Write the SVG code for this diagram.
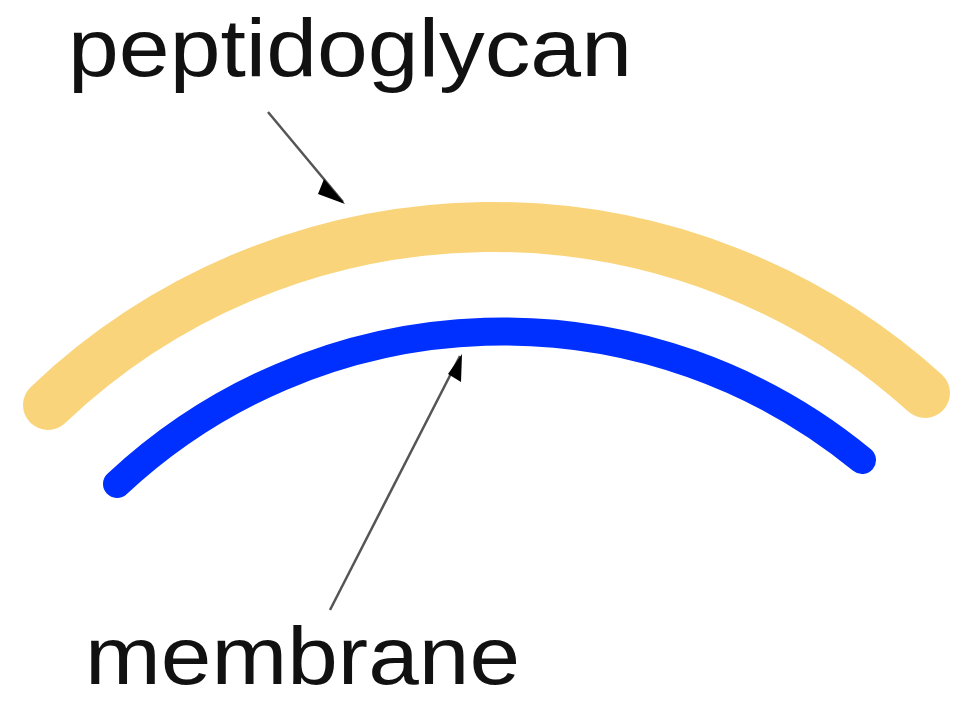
<svg xmlns="http://www.w3.org/2000/svg" width="966" height="701" viewBox="0 0 966 701">
<style>
.lbl{font-family:"Liberation Sans",Arial,sans-serif;font-size:81px;fill:#111}
.ptr{stroke:#555;stroke-width:2.5;fill:none}
</style>
<rect width="966" height="701" fill="#fff"/>
<g id="peptidoglycan">
<path d="M48,405 A645,645 0 0 1 925,393" fill="none" stroke="#FAD47A" stroke-width="50" stroke-linecap="round"/>
<text class="lbl" x="68" y="76" textLength="564" lengthAdjust="spacingAndGlyphs">peptidoglycan</text>
</g>
<g id="membrane">
<path d="M117,484 A565,565 0 0 1 862,460" fill="none" stroke="#0030FF" stroke-width="28" stroke-linecap="round"/>
<text class="lbl" x="85" y="684" textLength="435" lengthAdjust="spacingAndGlyphs">membrane</text>
</g>
<g id="connectors">
<line class="ptr" x1="268" y1="112" x2="343" y2="202"/>
<path d="M324,179 L345,204 L318,194 Z" fill="#000"/>
<line class="ptr" x1="330" y1="610" x2="460" y2="356"/>
<path d="M448,374 L462,354 L461,382 Z" fill="#000"/>
</g>
</svg>
